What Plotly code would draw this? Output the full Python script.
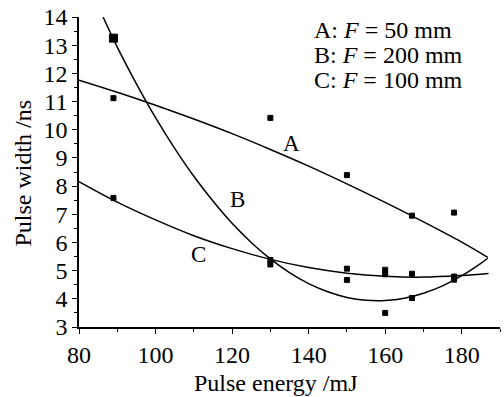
import plotly.graph_objects as go

# Measured points
pts_x = [89, 89, 89, 130, 130, 130, 150, 150, 150, 160, 160, 160, 167, 167, 167, 178, 178, 178]
pts_y = [13.25, 11.12, 7.58, 10.42, 5.38, 5.22, 8.39, 5.07, 4.67, 5.03, 4.87, 3.50, 6.95, 4.89, 4.03, 7.06, 4.79, 4.68]
pts_size = [8, 5, 5, 5, 5, 5, 5, 5, 5, 5, 5, 5, 5, 5, 5, 5, 5, 5]

# Fitted curves
a_x = [80, 90, 100, 110, 120, 130, 140, 150, 160, 170, 180, 186.8]
a_y = [11.76, 11.33, 10.87, 10.38, 9.86, 9.30, 8.71, 8.08, 7.42, 6.73, 6.01, 5.47]

b_x = [86.3, 90, 95, 100, 105, 110, 115, 120, 125, 130, 135, 140, 145, 150, 155, 160, 165, 170, 175, 180, 185, 186.8]
b_y = [14.0, 12.93, 11.63, 10.43, 9.34, 8.35, 7.47, 6.68, 6.00, 5.415, 4.93, 4.54, 4.25, 4.05, 3.95, 3.94, 4.02, 4.20, 4.46, 4.82, 5.26, 5.44]

c_x = [80, 90, 100, 110, 120, 130, 140, 150, 160, 170, 180, 187]
c_y = [8.16, 7.43, 6.80, 6.24, 5.78, 5.40, 5.11, 4.91, 4.80, 4.77, 4.83, 4.90]

curve_labels = ["A", "B", "C"]
label_x = [135.5, 121.4, 111.3]
label_y = [9.52, 7.51, 5.56]

legend_lines = ["A: <i>F</i> = 50 mm", "B: <i>F</i> = 200 mm", "C: <i>F</i> = 100 mm"]

FONT = "Liberation Serif"

fig = go.Figure()
for cx, cy in [(a_x, a_y), (b_x, b_y), (c_x, c_y)]:
    fig.add_trace(go.Scatter(x=cx, y=cy, mode="lines", line=dict(color="black", width=1.5, shape="spline"),
                             hoverinfo="skip", showlegend=False))
fig.add_trace(go.Scatter(x=pts_x, y=pts_y, mode="markers",
                         marker=dict(symbol="square", size=pts_size, color="black", opacity=1,
                                     line=dict(width=1, color="black")),
                         showlegend=False))

for t, x, y in zip(curve_labels, label_x, label_y):
    fig.add_annotation(x=x, y=y, text=t, showarrow=False, font=dict(family=FONT, size=23, color="black"))

for i, t in enumerate(legend_lines):
    fig.add_annotation(xref="paper", yref="paper", x=0.553, y=[0.958, 0.877, 0.797][i], text=t,
                       showarrow=False, xanchor="left", yanchor="middle",
                       font=dict(family=FONT, size=24, color="black"))

fig.add_annotation(xref="paper", yref="paper", x=0.467, y=-0.18, text="Pulse energy /mJ", showarrow=False,
                   xanchor="center", yanchor="middle", font=dict(family=FONT, size=24, color="black"))
fig.add_annotation(xref="paper", yref="paper", x=-0.133, y=0.495, text="Pulse width /ns", showarrow=False,
                   textangle=-90, xanchor="center", yanchor="middle", font=dict(family=FONT, size=24, color="black"))

axis_common = dict(showgrid=False, zeroline=False, showline=True, linecolor="black", linewidth=1.5,
                   ticks="outside", ticklen=5, tickwidth=1.2, tickcolor="black",
                   tickfont=dict(family=FONT, size=24, color="black"))
fig.update_xaxes(range=[80, 190], dtick=20, tick0=80,
                 minor=dict(dtick=10, ticks="outside", ticklen=3, tickcolor="black", tickwidth=1.2),
                 **axis_common)
fig.update_yaxes(range=[3, 14], dtick=1, tick0=3,
                 minor=dict(dtick=0.5, ticks="outside", ticklen=3, tickcolor="black", tickwidth=1.2),
                 **axis_common)

fig.update_layout(width=504, height=397, margin=dict(l=79, r=4, t=17, b=70),
                  font=dict(family=FONT, color="black"),
                  plot_bgcolor="white", paper_bgcolor="white", showlegend=False)

fig.write_html("out.html")
